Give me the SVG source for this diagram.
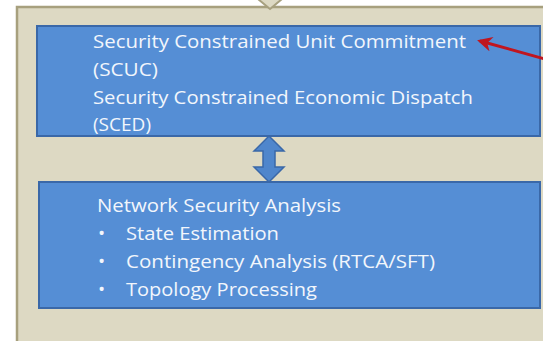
<svg xmlns="http://www.w3.org/2000/svg" width="543" height="341" viewBox="0 0 543 341">
<defs>
<style>
.t{font-family:"Open Sans","Liberation Sans",sans-serif;font-size:19px;fill:#F2F6FC;}
.blue{fill:#558ED5;stroke:#3A68A8;stroke-width:2;}
</style>
<marker id="red" viewBox="0 0 10 10" refX="8" refY="5" markerWidth="5.5" markerHeight="5" orient="auto" markerUnits="strokeWidth">
<path d="M0,0 L10,5 L0,10 L3,5 Z" fill="#C0161F"/>
</marker>
</defs>
<rect width="543" height="341" fill="#FFFFFF"/>
<g id="container">
<rect x="17" y="7" width="540" height="350" fill="#DDD9C3" stroke="#A7A07E" stroke-width="2.5"/>
<polygon points="258,-1 282,-1 270,9" fill="#DDD9C3" stroke="#A7A07E" stroke-width="2"/>
</g>
<g id="scuc">
<rect class="blue" x="37" y="26" width="503" height="110"/>
<text class="t" x="93" y="48" textLength="373" lengthAdjust="spacingAndGlyphs">Security Constrained Unit Commitment</text>
<text class="t" x="93" y="76" textLength="65" lengthAdjust="spacingAndGlyphs">(SCUC)</text>
<text class="t" x="93" y="104" textLength="380" lengthAdjust="spacingAndGlyphs">Security Constrained Economic Dispatch</text>
<text class="t" x="93" y="131" textLength="58" lengthAdjust="spacingAndGlyphs">(SCED)</text>
</g>
<g id="nsa">
<rect class="blue" x="39" y="182" width="501" height="126"/>
<text class="t" x="97" y="212" textLength="244" lengthAdjust="spacingAndGlyphs">Network Security Analysis</text>
<text class="t" x="98" y="240">•</text>
<text class="t" x="126" y="240" textLength="153" lengthAdjust="spacingAndGlyphs">State Estimation</text>
<text class="t" x="98" y="268">•</text>
<text class="t" x="126" y="268" textLength="309" lengthAdjust="spacingAndGlyphs">Contingency Analysis (RTCA/SFT)</text>
<text class="t" x="98" y="296">•</text>
<text class="t" x="126" y="296" textLength="191" lengthAdjust="spacingAndGlyphs">Topology Processing</text>
</g>
<g id="connectors">
<polygon points="269,136 284,151 275,151 275,167 284,167 269,182 254,167 263,167 263,151 254,151" fill="#4F86CC" stroke="#3A68A8" stroke-width="1.5"/>
<line x1="545" y1="59" x2="480" y2="41" stroke="#C0161F" stroke-width="3" marker-end="url(#red)"/>
</g>
</svg>
